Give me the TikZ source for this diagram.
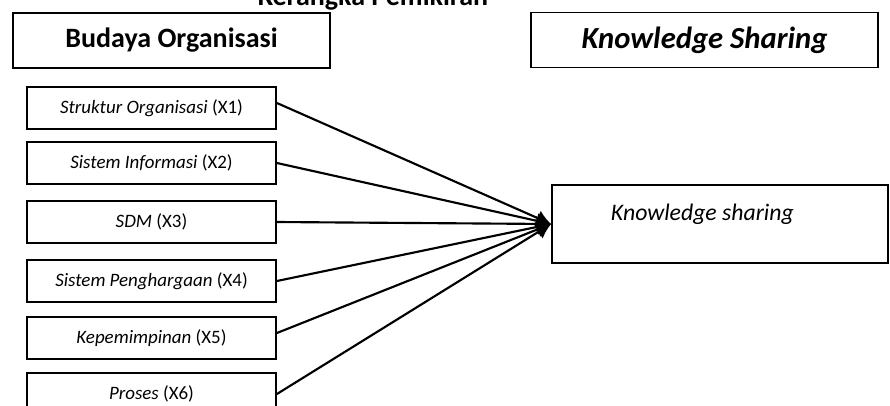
\documentclass[tikz,border=0pt]{standalone}
\usepackage{fontspec}
\setmainfont{Carlito}
\usetikzlibrary{arrows.meta}
\tikzset{
  headbox/.style={draw, line width=1.4pt, inner sep=0pt, minimum height=41.25pt,
    font=\fontsize{21}{25}\selectfont\bfseries},
  varbox/.style={draw, line width=1.4pt, inner sep=0pt, minimum width=186.75pt,
    minimum height=31.5pt, font=\fontsize{14.2}{17}\selectfont},
  link/.style={line width=1.6pt, -{Latex[length=11pt,width=12pt]}}
}
\begin{document}
\begin{tikzpicture}[x=0.75pt, y=-0.75pt, line width=1.4pt]
  % page frame (picture is cut at top and bottom)
  \clip (0,0) rectangle (890,405);
  % title, cut off at the top edge
  \node[anchor=base, font=\fontsize{21}{25}\selectfont\bfseries] (title) at (373,5) {Kerangka Pemikiran};
  % the two column headings
  \node[headbox, minimum width=237.75pt] (budaya) at (171.5,40.5) {Budaya Organisasi};
  \node[headbox, minimum width=260.25pt, font=\fontsize{23}{27}\selectfont\bfseries\itshape] (kshead) at (704.5,40) {Knowledge Sharing};
  % the six variables of organisational culture
  \node[varbox] (x1) at (151.5,108) {\textit{Struktur Organisasi} (X1)};
  \node[varbox] (x2) at (151.5,163) {\textit{Sistem Informasi} (X2)};
  \node[varbox] (x3) at (151.5,222) {\textit{SDM} (X3)};
  \node[varbox] (x4) at (151.5,281) {\textit{Sistem Penghargaan} (X4)};
  \node[varbox] (x5) at (151.5,338) {\textit{Kepemimpinan} (X5)};
  \node[varbox] (x6) at (151.5,394) {\textit{Proses} (X6)};
  % dependent variable box, text sits in its upper part
  \node[draw, inner sep=0pt, minimum width=252pt, minimum height=58.5pt] (ks) at (720,224) {};
  \node[anchor=base west, inner sep=0pt, font=\fontsize{17.8}{21}\selectfont\itshape] (kstext) at (610,220) {Knowledge sharing};
  % arrows from every variable to knowledge sharing
  \draw[link] ([yshift=3.75pt]x1.east) -- (ks.west);
  \draw[link] (x2.east) -- (ks.west);
  \draw[link] (x3.east) -- (ks.west);
  \draw[link] (x4.east) -- (ks.west);
  \draw[link] ([yshift=3.75pt]x5.east) -- (ks.west);
  \draw[link] (x6.east) -- (ks.west);
\end{tikzpicture}
\end{document}
